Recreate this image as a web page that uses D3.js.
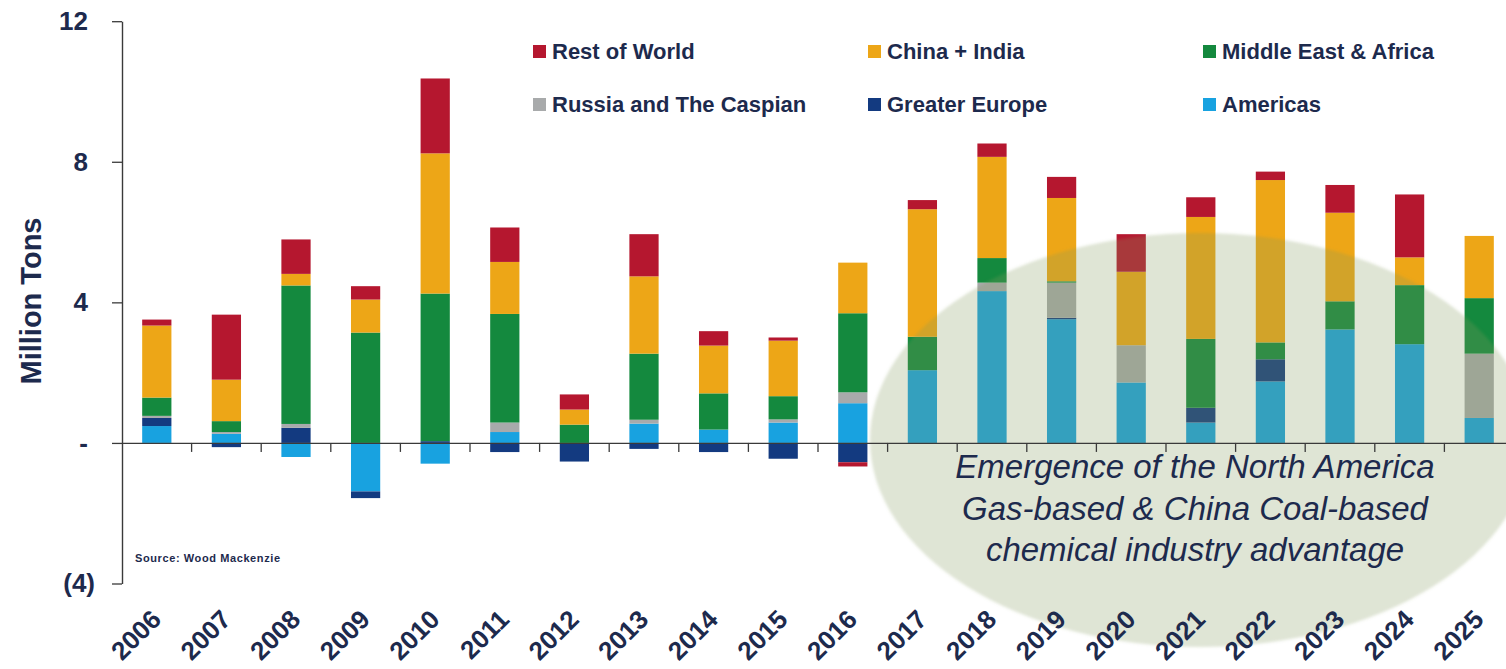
<!DOCTYPE html>
<html>
<head>
<meta charset="utf-8">
<script src="https://cdn.jsdelivr.net/npm/d3@7"></script>
<style>
  html, body { margin: 0; padding: 0; background: #ffffff; }
  svg { display: block; font-family: "Liberation Sans", Arial, sans-serif; }
</style>
</head>
<body>
<script>
// Net capacity additions by region, million tons per year
const years = ["2006","2007","2008","2009","2010","2011","2012","2013","2014","2015",
               "2016","2017","2018","2019","2020","2021","2022","2023","2024","2025"];

const americas         = [0.48, 0.26,-0.40,-1.38,-0.59, 0.31, 0.00, 0.55, 0.38, 0.58, 1.13, 2.07, 4.32, 3.52, 1.72, 0.58, 1.75, 3.23, 2.81, 0.71];
const greaterEurope    = [0.23,-0.12, 0.43,-0.19, 0.05,-0.26,-0.53,-0.17,-0.26,-0.45,-0.55, 0.00, 0.00, 0.04, 0.00, 0.42, 0.63, 0.00, 0.00, 0.00];
const russiaCaspian    = [0.06, 0.05, 0.11, 0.00, 0.00, 0.27, 0.00, 0.11, 0.00, 0.09, 0.31, 0.00, 0.24, 1.00, 1.06, 0.00, 0.00, 0.00, 0.00, 1.83];
const middleEastAfrica = [0.52, 0.31, 3.94, 3.14, 4.20, 3.09, 0.52, 1.88, 1.03, 0.66, 2.25, 0.95, 0.70, 0.04, 0.00, 1.96, 0.48, 0.80, 1.68, 1.58];
const chinaIndia       = [2.05, 1.18, 0.33, 0.94, 3.99, 1.48, 0.43, 2.20, 1.36, 1.58, 1.44, 3.63, 2.88, 2.37, 2.09, 3.47, 4.62, 2.52, 0.79, 1.77];
const restOfWorld      = [0.17, 1.85, 0.98, 0.38, 2.13, 0.98, 0.43, 1.20, 0.41, 0.09,-0.12, 0.26, 0.38, 0.60, 1.07, 0.56, 0.24, 0.79, 1.79, 0.00];

const seriesNames  = ["Americas", "Greater Europe", "Russia and The Caspian", "Middle East & Africa", "China + India", "Rest of World"];
const seriesValues = [americas, greaterEurope, russiaCaspian, middleEastAfrica, chinaIndia, restOfWorld];
const seriesColors = ["#18a2e0", "#133a80", "#a8aaab", "#14893e", "#eda617", "#b5172f"];

const legendOrder = ["Rest of World", "China + India", "Middle East & Africa",
                     "Russia and The Caspian", "Greater Europe", "Americas"];

const yTicks = [-4, 0, 4, 8, 12];
const yTickLabels = ["(4)", "-", "4", "8", "12"];

const noteLines = ["Emergence of the North America",
                   "Gas-based & China Coal-based",
                   "chemical industry advantage"];

const textColor = "#1d2a4d";

// Table for the stack layout
const table = years.map((yr, i) => {
  const row = { year: yr };
  seriesNames.forEach((s, k) => { row[s] = seriesValues[k][i]; });
  return row;
});

const stacked = d3.stack()
  .keys(seriesNames)
  .offset(d3.stackOffsetDiverging)(table);

const color = d3.scaleOrdinal().domain(seriesNames).range(seriesColors);

const W = 1506, H = 669;
const svg = d3.select("body").append("svg").attr("width", W).attr("height", H);

const x = d3.scaleBand().domain(years).range([122, 1514]).paddingInner(0.58).paddingOuter(0.29);
const y = d3.scaleLinear().domain([-4, 12]).range([583.5, 21.2]);

// Stacked bars
svg.append("g").selectAll("g")
  .data(stacked)
  .join("g")
    .attr("fill", d => color(d.key))
  .selectAll("rect")
  .data(d => d)
  .join("rect")
    .attr("x", d => x(d.data.year))
    .attr("width", x.bandwidth())
    .attr("y", d => y(Math.max(d[0], d[1])))
    .attr("height", d => Math.abs(y(d[0]) - y(d[1])));

// Highlight ellipse over the forecast years
const defs = svg.append("defs");
defs.append("filter").attr("id", "soft")
  .attr("x", "-10%").attr("y", "-10%").attr("width", "120%").attr("height", "120%")
  .append("feGaussianBlur").attr("stdDeviation", 1.5);

svg.append("ellipse")
  .attr("cx", 1200).attr("cy", 440)
  .attr("rx", 330).attr("ry", 207)
  .attr("fill", "rgb(130,155,88)")
  .attr("fill-opacity", 0.26)
  .attr("filter", "url(#soft)");

// Y axis
const yAxis = svg.append("g")
  .attr("transform", "translate(122,0)")
  .call(d3.axisLeft(y)
    .tickValues(yTicks)
    .tickFormat((d, i) => yTickLabels[i])
    .tickSize(10)
    .tickSizeOuter(0)
    .tickPadding(24));
yAxis.select(".domain").attr("stroke", "#3a3a3a").attr("stroke-width", 1.4);
yAxis.selectAll(".tick line").attr("stroke", "#3a3a3a").attr("stroke-width", 1.3);
yAxis.selectAll(".tick text")
  .attr("fill", textColor)
  .attr("font-size", 26)
  .attr("font-weight", "bold")
  .attr("font-family", "Liberation Sans, Arial, sans-serif")
  .attr("x", d => d < 0 ? -27 : -34);

// X axis on the zero line, ticks between categories
const xAxis = svg.append("g")
  .attr("transform", `translate(0,${y(0)})`)
  .call(d3.axisBottom(x).tickSizeInner(9).tickSizeOuter(0));
xAxis.select(".domain").attr("stroke", "#3a3a3a").attr("stroke-width", 1.4);
xAxis.selectAll(".tick line")
  .attr("stroke", "#3a3a3a").attr("stroke-width", 1.3)
  .attr("transform", `translate(${x.step() / 2},0)`);
xAxis.selectAll(".tick text")
  .attr("fill", textColor)
  .attr("font-size", 26)
  .attr("font-weight", "bold")
  .attr("font-family", "Liberation Sans, Arial, sans-serif")
  .attr("text-anchor", "end")
  .attr("x", 0).attr("y", 0).attr("dy", 0)
  .attr("transform", "translate(6,178) rotate(-45)");

// Y axis title
svg.append("text")
  .attr("transform", "translate(41,301) rotate(-90)")
  .attr("text-anchor", "middle")
  .attr("fill", textColor)
  .attr("font-size", 29)
  .attr("font-weight", "bold")
  .text("Million Tons");

// Legend, two rows of three
const legendX = [533, 868, 1203];
const legendY = [51.5, 104.5];
const legend = svg.append("g").selectAll("g")
  .data(legendOrder)
  .join("g")
    .attr("transform", (d, i) => `translate(${legendX[i % 3]},${legendY[Math.floor(i / 3)]})`);
legend.append("rect")
  .attr("x", 0).attr("y", -6.5)
  .attr("width", 13).attr("height", 13)
  .attr("fill", d => color(d));
legend.append("text")
  .attr("x", 19).attr("y", 0)
  .attr("dy", "0.36em")
  .attr("fill", textColor)
  .attr("font-size", 22)
  .attr("font-weight", "bold")
  .text(d => d);

// Annotation inside the ellipse
svg.append("g").selectAll("text")
  .data(noteLines)
  .join("text")
    .attr("x", 1195)
    .attr("y", (d, i) => 478 + i * 41.5)
    .attr("text-anchor", "middle")
    .attr("fill", textColor)
    .attr("font-size", 33)
    .attr("font-style", "italic")
    .text(d => d);

// Source note
svg.append("text")
  .attr("x", 135).attr("y", 562)
  .attr("fill", textColor)
  .attr("font-size", 11)
  .attr("font-weight", "bold")
  .attr("letter-spacing", 0.6)
  .text("Source: Wood Mackenzie");
</script>
</body>
</html>
